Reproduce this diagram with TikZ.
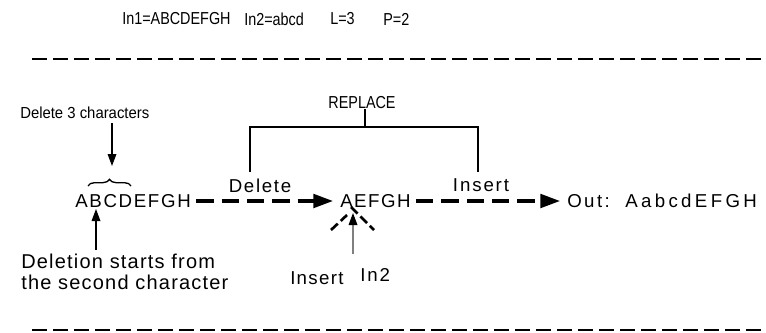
\documentclass[tikz,border=0pt]{standalone}
\usepackage{fontspec}
\setmainfont{Liberation Sans}
\usepackage{tikz}
\usetikzlibrary{arrows.meta,decorations.pathreplacing,calc}
\tikzset{
  ed small/.style={
    font=\fontsize{13}{15}\selectfont\addfontfeature{FakeStretch=#1},
    inner sep=0pt,
  },
  ed small/.default=0.83,
  ed text/.style={
    font=\fontsize{14}{15.75}\selectfont\addfontfeature{LetterSpace=#1},
    inner sep=0pt,
  },
  ed text/.default=8,
  ed flow/.style={
    -{Triangle[length=15pt,width=10pt]},
    line width=3pt,
    dash pattern=on 13pt off 6pt,
    shorten <=4pt,
    shorten >=5pt,
  },
  ed rule/.style={line width=2.2pt, dash pattern=on 11.25pt off 4.5pt},
  ed pointer/.style={-{Triangle[length=9pt,width=6.5pt]}, line width=0.9pt},
  ed bracket/.style={line width=1.5pt},
  ed caret/.style={line width=2pt, dash pattern=on 7pt off 3pt},
}

\begin{document}
\begin{tikzpicture}[x=0.75pt,y=-0.75pt]
  \useasboundingbox (0,0) rectangle (766,332);
  % parameters
  \node[ed small,anchor=west] (in1) at (122,19) {In1=ABCDEFGH};
  \node[ed small,anchor=west] (in2) at (244,19) {In2=abcd};
  \node[ed small,anchor=west] (len) at (330,19) {L=3};
  \node[ed small,anchor=west] (pos) at (383,19) {P=2};
  \coordinate (ruleAw) at (32,59);
  \coordinate (ruleAe) at (766,59);
  \coordinate (ruleBw) at (32,330);
  \coordinate (ruleBe) at (766,330);
  \draw[ed rule] (ruleAw) -- (ruleAe);
  \draw[ed rule] (ruleBw) -- (ruleBe);

  % strings
  \node[ed text=9,anchor=west] (src) at (75,201) {ABCDEFGH};
  \node[ed text=8,anchor=west] (mid) at (340,201) {AEFGH};
  \node[ed text=13,anchor=west] (out) at (567,201) {Out:};
  \node[ed text=18,anchor=west] (res) at (625,201) {AabcdEFGH};
  \draw[ed flow] (src) -- (mid);
  \draw[ed flow] (mid) -- (out);
  \node[ed text=9] (dlabel) at (260,186) {Delete};
  \node[ed text=10] (ilabel) at (481,185) {Insert};

  % replace bracket
  \node[ed small] (replace) at (362,103) {REPLACE};
  \coordinate (brtop) at (365,127);
  \draw[ed bracket] (replace.south -| brtop) -- (brtop);
  \draw[ed bracket] ([xshift=-7.5pt,yshift=5pt]dlabel.north) |- (brtop)
    -| ([xshift=-2pt,yshift=5pt]ilabel.north);

  % deletion
  \node[ed small=0.93,font=\fontsize{12}{14}\selectfont\addfontfeature{FakeStretch=0.93},anchor=west]
    (delhint) at (20,113) {Delete 3 characters};
  \coordinate (bcL) at (88,186);
  \coordinate (bcR) at (131,186);
  \coordinate (bctip) at (112,178);
  \draw[line width=1pt,decorate,decoration={brace,amplitude=5pt}] (bcL) -- (bcR);
  \draw[ed pointer,shorten <=3pt,shorten >=9pt] (delhint.south -| bctip) -- (bctip);
  \node[ed text=6,font=\fontsize{15}{15.75}\selectfont\addfontfeature{LetterSpace=6},
    anchor=west,align=left] (starthint) at (21,272)
    {Deletion starts from\\the second character};
  \coordinate (startpt) at (96,209);
  \draw[ed pointer,shorten <=3pt] (starthint.north -| startpt) -- (startpt);

  % insertion
  \coordinate (caret) at (353,213);
  \coordinate (caretL) at (331,230);
  \coordinate (caretR) at (374,230);
  \draw[ed caret] (caretL) -- ($(caret)+(-6,2)$);
  \draw[ed caret] ($(caret)+(-2,-6)$) -- (caretR);
  \coordinate (instail) at (353,254);
  \draw[ed pointer,draw=gray,-{Triangle[length=9pt,width=6.5pt,color=black]}] (instail) -- (caret);
  \node[ed text=7,anchor=west] (ins) at (290,278) {Insert};
  \node[ed text=10,anchor=west] (insarg) at (360,275) {In2};
\end{tikzpicture}
\end{document}
